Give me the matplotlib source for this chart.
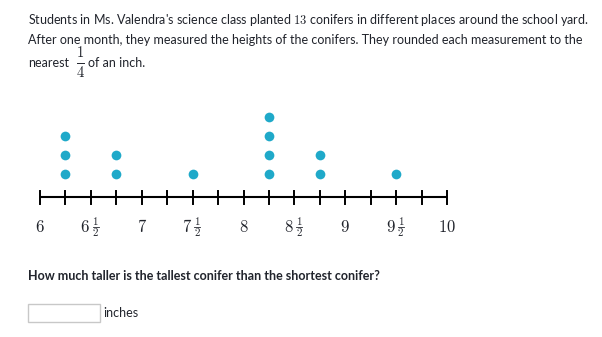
import matplotlib
matplotlib.use("Agg")
import matplotlib.pyplot as plt
from matplotlib.patches import Rectangle
from matplotlib.lines import Line2D
from matplotlib.transforms import offset_copy

plt.rcParams["mathtext.fontset"] = "cm"

# heights (inches) and how many conifers at each
heights = [6.25, 6.75, 7.5, 8.25, 8.75, 9.5]
counts = [3, 2, 1, 4, 2, 1]
# number-line labels: whole part, and whether a "1/2" follows
label_vals = [6, 6.5, 7, 7.5, 8, 8.5, 9, 9.5, 10]
label_whole = ["6", "6", "7", "7", "8", "8", "9", "9", "10"]
label_half = [False, True, False, True, False, True, False, True, False]

W, H = 602, 337
DOT = "#1fa9c9"
TXT = "#21242c"

fig = plt.figure(figsize=(W / 100, H / 100), dpi=100)


def px(x, y):
    """Figure fraction from pixel coords measured from top-left."""
    return x / W, 1 - y / H


def ftext(x, y, s, **kw):
    fx, fy = px(x, y)
    kw.setdefault("family", "Lato")
    kw.setdefault("color", TXT)
    kw.setdefault("fontsize", 9)
    kw.setdefault("ha", "left")
    fig.text(fx, fy, s, va="center", **kw)


def stacked_frac(x, y, num, den, size, gap, half_w):
    """Draw num over den with a bar, centred at pixel (x, y) of the figure."""
    ftext(x, y - gap, f"${num}$", fontsize=size, ha="center")
    ftext(x, y + gap, f"${den}$", fontsize=size, ha="center")
    x0, y0 = px(x - half_w, y)
    x1, _ = px(x + half_w, y)
    fig.lines.append(Line2D([x0, x1], [y0, y0], transform=fig.transFigure,
                            color=TXT, lw=0.7))


# ---- question text ------------------------------------------------------
ftext(28, 20, "Students in Ms. Valendra's science class planted $13$ conifers "
              "in different places around the school yard.")
ftext(28, 40, "After one month, they measured the heights of the conifers. "
              "They rounded each measurement to the")
ftext(28, 63, "nearest")
stacked_frac(80.5, 62.5, "1", "4", 10.5, 10, 3.5)
ftext(88, 63, "of an inch.")

# ---- dot plot -----------------------------------------------------------
# axes spans pixel rows 100..240, x from 6 (px 40) to 10 (px 447)
top, bot = 100, 240
ax = fig.add_axes([40 / W, 1 - bot / H, 407 / W, (bot - top) / H])
ax.set_xlim(6, 10)
unit = 19  # px per stacked dot
ax.set_ylim(-(bot - 197) / unit, (197 - top) / unit)
ax.axis("off")

ax.plot([6, 10], [0, 0], color="black", lw=1.5, clip_on=False,
        solid_capstyle="butt")
for i in range(17):
    ax.plot([6 + i * 0.25] * 2, [-6.5 / unit, 6.5 / unit], color="black",
            lw=1.4, clip_on=False)

ly = -29.5 / unit
for v, whole, half in zip(label_vals, label_whole, label_half):
    if not half:
        ax.text(v, ly, f"${whole}$", ha="center", va="center", fontsize=12,
                color=TXT)
        continue
    ax.annotate(f"${whole}$", (v, ly), xytext=(-0.6, 0),
                textcoords="offset points", ha="right", va="center",
                fontsize=12, color=TXT)
    for s, dy in (("1", 4.0), ("2", -4.0)):
        ax.annotate(f"${s}$", (v, ly), xytext=(3.4, dy),
                    textcoords="offset points", ha="center", va="center",
                    fontsize=8, color=TXT)
    # fraction bar, in points relative to the label anchor
    bar_tf = [offset_copy(ax.transData, fig=fig, x=dx, y=0, units="points")
              for dx in (1.3, 5.5)]
    p0, p1 = (t.transform((v, ly)) for t in bar_tf)
    (a0, b0), (a1, b1) = fig.transFigure.inverted().transform([p0, p1])
    fig.lines.append(Line2D([a0, a1], [b0, b1], transform=fig.transFigure,
                            color=TXT, lw=0.6))

for h, c in zip(heights, counts):
    for k in range(1, c + 1):
        ax.plot(h, k + 4 / unit, "o", color=DOT, ms=7, mec="none",
                clip_on=False)

# ---- answer prompt ------------------------------------------------------
ftext(28, 276, "How much taller is the tallest conifer than the shortest conifer?",
      weight="bold")
bx, by = px(28, 322)
fig.patches.append(Rectangle((bx, by), 72 / W, 18 / H, transform=fig.transFigure,
                             fill=False, edgecolor="#c8c8c8", lw=1))
ftext(103, 313, "inches")

fig.savefig("out.png", dpi=100, facecolor="white")
